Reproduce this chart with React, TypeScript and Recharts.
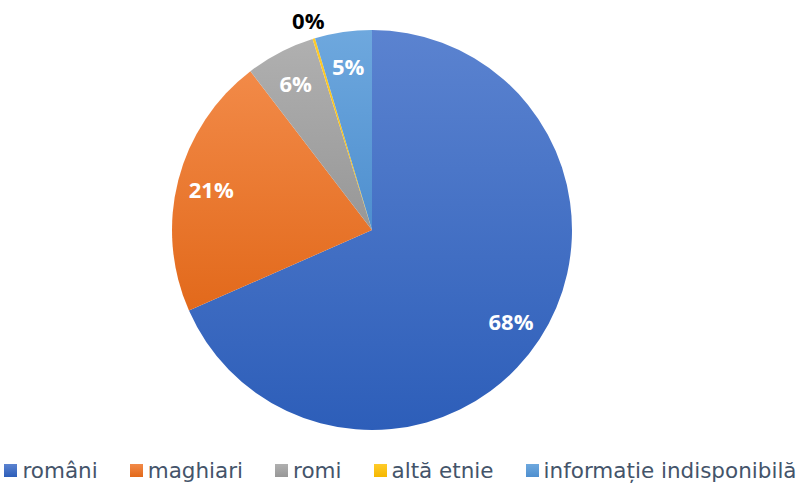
import { PieChart, Pie, Cell, Legend } from 'recharts';

const categories = ['români', 'maghiari', 'romi', 'altă etnie', 'informație indisponibilă'];
const shares = [68.4, 21.2, 5.6, 0.2, 4.6];
const colorsTop = ['#5b83d0', '#f28a48', '#b0b0b0', '#ffcb2a', '#6ea8de'];
const colorsBottom = ['#2d5eb9', '#e2691b', '#979797', '#f5b800', '#4e8fcf'];

const data = categories.map((name, i) => ({ name, value: shares[i] }));

const RAD = Math.PI / 180;

function renderLabel(props: any) {
  const { cx, cy, midAngle, outerRadius, percent } = props;
  const pct = Math.round(percent * 100);
  const outside = percent < 0.01;
  const r = outside ? outerRadius + 19 : outerRadius * 0.83;
  const x = cx + r * Math.cos(-midAngle * RAD);
  const y = cy + r * Math.sin(-midAngle * RAD);
  return (
    <text
      x={x}
      y={y}
      fill={outside ? '#000000' : '#ffffff'}
      textAnchor="middle"
      dominantBaseline="central"
      fontFamily="'Open Sans', sans-serif"
      fontWeight={700}
      fontSize={22}
    >
      {pct}%
    </text>
  );
}

function LegendContent() {
  return (
    <div
      style={{
        display: 'flex',
        justifyContent: 'center',
        alignItems: 'center',
        gap: 32,
        fontFamily: "'DejaVu Sans', sans-serif",
        fontSize: 21.5,
        color: '#44546a'
      }}
    >
      {categories.map((name, i) => (
        <div key={name} style={{ display: 'flex', alignItems: 'center' }}>
          <span
            style={{
              width: 13,
              height: 13,
              marginRight: 5,
              background: `linear-gradient(${colorsTop[i]}, ${colorsBottom[i]})`
            }}
          />
          <span>{name}</span>
        </div>
      ))}
    </div>
  );
}

export default function App() {
  return (
    <div style={{ position: 'absolute', left: 0, top: 0, width: 801, height: 485, background: '#fff' }}>
      <PieChart width={801} height={485} margin={{ top: 0, right: 0, bottom: 0, left: 0 }}>
        <defs>
          {categories.map((name, i) => (
            <linearGradient key={name} id={`grad-${i}`} x1="0" y1="0" x2="0" y2="1">
              <stop offset="0%" stopColor={colorsTop[i]} />
              <stop offset="100%" stopColor={colorsBottom[i]} />
            </linearGradient>
          ))}
        </defs>
        <Pie
          data={data}
          dataKey="value"
          nameKey="name"
          cx={372}
          cy={230}
          outerRadius={200}
          startAngle={90}
          endAngle={-270}
          stroke="none"
          label={renderLabel}
          labelLine={false}
          isAnimationActive={false}
        >
          {data.map((entry, i) => (
            <Cell key={entry.name} fill={`url(#grad-${i})`} />
          ))}
        </Pie>
        <Legend
          verticalAlign="bottom"
          content={<LegendContent />}
          wrapperStyle={{ left: 0, width: 801, bottom: 2 }}
        />
      </PieChart>
    </div>
  );
}
